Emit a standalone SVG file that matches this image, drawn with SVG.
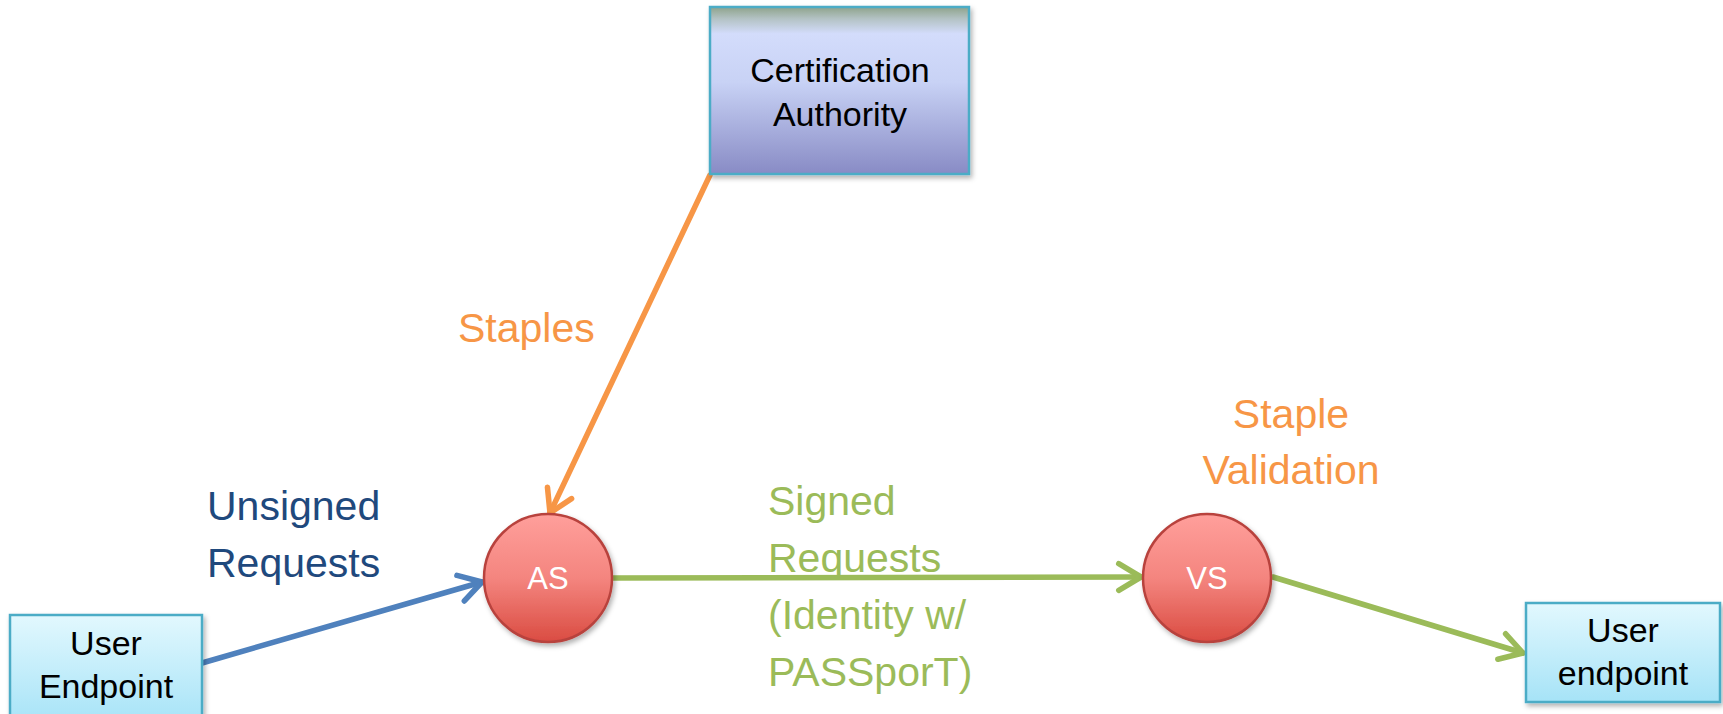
<svg xmlns="http://www.w3.org/2000/svg" width="1723" height="714" viewBox="0 0 1723 714">
  <defs>
    <linearGradient id="caFill" x1="0" y1="0" x2="0" y2="1">
      <stop offset="0" stop-color="#8EA38B"/>
      <stop offset="0.07" stop-color="#B3C2C4"/>
      <stop offset="0.16" stop-color="#D3DCFB"/>
      <stop offset="0.45" stop-color="#C8D2F5"/>
      <stop offset="1" stop-color="#888BC5"/>
    </linearGradient>
    <linearGradient id="epFill" x1="0" y1="0" x2="0" y2="1">
      <stop offset="0" stop-color="#E2F8FE"/>
      <stop offset="1" stop-color="#A6E3F7"/>
    </linearGradient>
    <linearGradient id="nodeFill" x1="0" y1="0" x2="0" y2="1">
      <stop offset="0" stop-color="#FF9F9B"/>
      <stop offset="0.5" stop-color="#F4857F"/>
      <stop offset="1" stop-color="#DA4C42"/>
    </linearGradient>
    <filter id="shadow" x="-10%" y="-10%" width="125%" height="130%">
      <feDropShadow dx="2" dy="3" stdDeviation="2.5" flood-color="#000" flood-opacity="0.3"/>
    </filter>
    <marker id="arrowBlue" markerUnits="userSpaceOnUse" markerWidth="40" markerHeight="40" refX="0" refY="0" viewBox="-26 -18 32 36" orient="auto">
      <path d="M -20 -12 L 0 0 L -20 12" fill="none" stroke="#4F81BD" stroke-width="5" stroke-linecap="round" stroke-linejoin="round"/>
    </marker>
    <marker id="arrowGreen" markerUnits="userSpaceOnUse" markerWidth="40" markerHeight="40" refX="0" refY="0" viewBox="-26 -18 32 36" orient="auto">
      <path d="M -20 -12 L 0 0 L -20 12" fill="none" stroke="#9BBB59" stroke-width="5" stroke-linecap="round" stroke-linejoin="round"/>
    </marker>
    <marker id="arrowOrange" markerUnits="userSpaceOnUse" markerWidth="40" markerHeight="40" refX="0" refY="0" viewBox="-26 -18 32 36" orient="auto">
      <path d="M -20 -12 L 0 0 L -20 12" fill="none" stroke="#F79646" stroke-width="5" stroke-linecap="round" stroke-linejoin="round"/>
    </marker>
  </defs>
  <style>
    .box { stroke: #4BACC6; stroke-width: 2.5; }
    .circle { stroke: #B8433E; stroke-width: 2.5; fill: url(#nodeFill); }
    .t { font-family: "Liberation Sans", Arial, sans-serif; }
    .boxText { font-size: 34px; fill: #000; text-anchor: middle; }
    .nodeText { font-size: 31px; fill: #FFFFFF; text-anchor: middle; }
    .label { font-size: 41px; }
    .conn { fill: none; stroke-width: 5.5; stroke-linecap: round; }
  </style>
  <rect width="1723" height="714" fill="#FFFFFF"/>

  <g id="connectors">
    <line class="conn" x1="202" y1="663" x2="482" y2="582" stroke="#4F81BD" marker-end="url(#arrowBlue)"/>
    <line class="conn" x1="612" y1="578" x2="1141" y2="577" stroke="#9BBB59" marker-end="url(#arrowGreen)"/>
    <line class="conn" x1="1273" y1="577" x2="1523" y2="653" stroke="#9BBB59" marker-end="url(#arrowGreen)"/>
    <line class="conn" x1="710" y1="175" x2="550" y2="513" stroke="#F79646" marker-end="url(#arrowOrange)"/>
  </g>

  <g id="ca">
    <rect class="box" x="710" y="7" width="259" height="167" fill="url(#caFill)" filter="url(#shadow)"/>
    <text class="t boxText" x="840" y="82">Certification</text>
    <text class="t boxText" x="840" y="126">Authority</text>
  </g>

  <g id="user-endpoint-left">
    <rect class="box" x="10" y="615" width="192" height="110" fill="url(#epFill)" filter="url(#shadow)"/>
    <text class="t boxText" x="106" y="655">User</text>
    <text class="t boxText" x="106" y="698">Endpoint</text>
  </g>

  <g id="user-endpoint-right">
    <rect class="box" x="1526" y="603" width="194" height="99" fill="url(#epFill)" filter="url(#shadow)"/>
    <text class="t boxText" x="1623" y="642">User</text>
    <text class="t boxText" x="1623" y="685">endpoint</text>
  </g>

  <g id="as">
    <circle class="circle" cx="548" cy="578" r="64" filter="url(#shadow)"/>
    <text class="t nodeText" x="548" y="589">AS</text>
  </g>

  <g id="vs">
    <circle class="circle" cx="1207" cy="578" r="64" filter="url(#shadow)"/>
    <text class="t nodeText" x="1207" y="589">VS</text>
  </g>

  <g id="labels">
    <text class="t label" fill="#F79646" x="458" y="342">Staples</text>
    <text class="t label" fill="#1F497D" x="207" y="520">Unsigned</text>
    <text class="t label" fill="#1F497D" x="207" y="577">Requests</text>
    <text class="t label" fill="#9BBB59" x="768" y="515">Signed</text>
    <text class="t label" fill="#9BBB59" x="768" y="572">Requests</text>
    <text class="t label" fill="#9BBB59" x="768" y="629">(Identity w/</text>
    <text class="t label" fill="#9BBB59" x="768" y="686">PASSporT)</text>
    <text class="t label" fill="#F79646" x="1291" y="428" text-anchor="middle">Staple</text>
    <text class="t label" fill="#F79646" x="1291" y="484" text-anchor="middle">Validation</text>
  </g>
</svg>
